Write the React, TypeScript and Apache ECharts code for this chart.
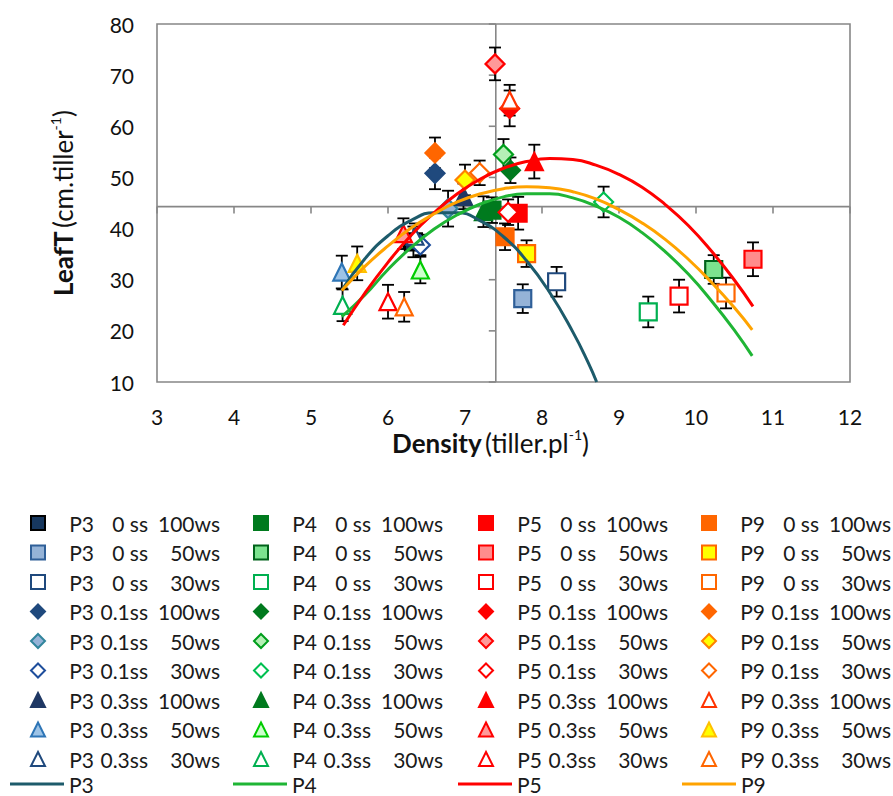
import React, { useEffect, useRef } from "react";
import * as echarts from "echarts";

// ---------- categories ----------
const POPULATIONS = ["P3", "P4", "P5", "P9"];
const SALT = ["0 ss", "0.1ss", "0.3ss"];
const WATER = ["100ws", "50ws", "30ws"];

// ---------- axes ----------
const X_TICKS = [3, 4, 5, 6, 7, 8, 9, 10, 11, 12];
const Y_TICKS = [10, 20, 30, 40, 50, 60, 70, 80];
const AXIS_CROSS_X = 7.4;
const AXIS_CROSS_Y = 44.3;

// ---------- points (order: 0ss 100/50/30ws, 0.1ss 100/50/30ws, 0.3ss 100/50/30ws) ----------
const P3_DENSITY = [6.33, 7.75, 8.19, 6.61, 6.78, 6.42, 6.98, 5.4, 6.35];
const P3_LEAFT = [37.4, 26.3, 29.6, 50.8, 43.9, 36.8, 46.3, 31.5, 38.5];
const P3_ERR = [3.0, 2.8, 2.9, 3.1, 3.5, 2.0, 2.5, 3.2, 2.5];

const P4_DENSITY = [7.35, 10.23, 9.38, 7.59, 7.5, 8.8, 7.24, 6.42, 5.41];
const P4_LEAFT = [43.6, 32.0, 23.7, 51.4, 54.5, 45.2, 43.3, 31.9, 25.0];
const P4_ERR = [2.5, 2.8, 3.0, 2.5, 3.0, 3.0, 3.0, 2.6, 3.1];

const P5_DENSITY = [7.69, 10.74, 9.78, 7.58, 7.39, 7.56, 7.9, 6.2, 6.0];
const P5_LEAFT = [43.0, 34.0, 26.8, 63.5, 72.2, 43.2, 53.1, 39.0, 25.7];
const P5_ERR = [3.2, 3.3, 3.2, 3.5, 3.2, 2.5, 3.3, 3.0, 3.3];

const P9_DENSITY = [7.52, 7.8, 10.39, 6.61, 7.0, 7.19, 7.58, 5.6, 6.21];
const P9_LEAFT = [38.4, 35.1, 27.4, 54.8, 49.5, 50.9, 65.1, 33.2, 24.7];
const P9_ERR = [2.6, 2.6, 3.0, 3.0, 3.0, 2.4, 3.0, 3.3, 2.9];

// ---------- trend curves ----------
const P3_CURVE_X = [5.4, 5.7, 6.0, 6.3, 6.6, 6.9, 7.2, 7.5, 7.8, 8.1, 8.4, 8.6, 8.71];
const P3_CURVE_Y = [28.0, 34.1, 38.6, 41.6, 43.1, 43.1, 41.5, 38.4, 33.7, 27.5, 19.8, 13.8, 10.0];

const P4_CURVE_X = [5.4, 5.7, 6.0, 6.3, 6.6, 6.9, 7.2, 7.5, 7.8, 8.1, 8.4, 8.7, 9.0, 9.3, 9.6, 9.9, 10.2, 10.5, 10.73];
const P4_CURVE_Y = [22.8, 27.0, 32.0, 36.3, 39.9, 42.7, 44.8, 46.2, 46.8, 46.8, 46.0, 44.4, 42.2, 39.2, 35.5, 31.1, 25.9, 20.1, 15.1];

const P5_CURVE_X = [5.42, 5.7, 6.0, 6.3, 6.6, 6.9, 7.2, 7.5, 7.8, 8.1, 8.4, 8.7, 9.0, 9.3, 9.6, 9.9, 10.2, 10.5, 10.74];
const P5_CURVE_Y = [21.1, 27.4, 33.4, 38.7, 43.1, 46.8, 49.7, 51.8, 53.1, 53.7, 53.5, 52.4, 50.6, 48.1, 44.7, 40.6, 35.6, 29.9, 24.8];

const P9_CURVE_X = [5.4, 5.7, 6.0, 6.3, 6.6, 6.9, 7.2, 7.5, 7.8, 8.1, 8.4, 8.7, 9.0, 9.3, 9.6, 9.9, 10.2, 10.5, 10.73];
const P9_CURVE_Y = [27.9, 32.6, 36.6, 40.1, 42.9, 45.2, 46.8, 47.8, 48.2, 48.0, 47.2, 45.8, 43.7, 41.1, 37.9, 34.0, 29.5, 24.5, 20.2];

const POINTS = [
  { density: P3_DENSITY, leafT: P3_LEAFT, err: P3_ERR },
  { density: P4_DENSITY, leafT: P4_LEAFT, err: P4_ERR },
  { density: P5_DENSITY, leafT: P5_LEAFT, err: P5_ERR },
  { density: P9_DENSITY, leafT: P9_LEAFT, err: P9_ERR },
];
const CURVES = [
  { x: P3_CURVE_X, y: P3_CURVE_Y },
  { x: P4_CURVE_X, y: P4_CURVE_Y },
  { x: P5_CURVE_X, y: P5_CURVE_Y },
  { x: P9_CURVE_X, y: P9_CURVE_Y },
];

// ---------- styles ----------
const SHAPES = ["rect", "diamond", "triangle"];
const CURVE_COLORS = ["#1d5b6b", "#1fb535", "#ff0000", "#ffa300"];
// [fill, border] per population, order as above
const MARKER_STYLES = [
  [
    ["#17375e", "#000000"], ["#95b3d7", "#2f5f98"], ["#ffffff", "#1f497d"],
    ["#1f497d", "#1f497d"], ["#95b3d7", "#31859c"], ["#ffffff", "#1f4e9c"],
    ["#1f3864", "#1f3864"], ["#9dc3e6", "#2e75b6"], ["#ffffff", "#1f497d"],
  ],
  [
    ["#007a1e", "#007a1e"], ["#7ce38f", "#00621a"], ["#ffffff", "#00b050"],
    ["#007a1e", "#007a1e"], ["#b6f0b6", "#009e1c"], ["#ffffff", "#00c050"],
    ["#007a1e", "#007a1e"], ["#ccffcc", "#00cc00"], ["#ffffff", "#00b050"],
  ],
  [
    ["#ff0000", "#ff0000"], ["#ff8c8c", "#ff0000"], ["#ffffff", "#ff0000"],
    ["#ff0000", "#ff0000"], ["#ff9999", "#ff0000"], ["#ffffff", "#ff0000"],
    ["#ff0000", "#ff0000"], ["#ff9999", "#ff0000"], ["#ffffff", "#ff0000"],
  ],
  [
    ["#ff6600", "#ff6600"], ["#ffff00", "#ff6600"], ["#ffffff", "#ff6600"],
    ["#ff6600", "#ff6600"], ["#ffff00", "#ff8000"], ["#ffffff", "#ff6600"],
    ["#ffffff", "#ff3300"], ["#ffff00", "#ffc000"], ["#ffffff", "#ff6600"],
  ],
];

const FONT = "Lato";
const TEXT_COLOR = "#1a1a1a";
const LEGEND_MARKER_LEFT = [30, 253, 478, 701];
const LEGEND_LINE_LEFT = [10, 233, 458, 682];

function buildOption() {
  const series: any[] = [];
  const legends: any[] = [];
  const errData: number[][] = [];

  POPULATIONS.forEach((pop, pi) => {
    const names: string[] = [];
    SALT.forEach((ss, si) => {
      WATER.forEach((ws, wi) => {
        const k = si * 3 + wi;
        const name = `${pop} ${ss} ${ws}`;
        names.push(name);
        const [fill, border] = MARKER_STYLES[pi][k];
        const x = POINTS[pi].density[k];
        const y = POINTS[pi].leafT[k];
        const e = POINTS[pi].err[k];
        errData.push([x, y - e, y + e]);
        series.push({
          type: "scatter",
          name,
          data: [[x, y]],
          symbol: SHAPES[si],
          symbolSize: si === 1 ? 19 : 17,
          itemStyle: { color: fill, borderColor: border, borderWidth: 2.2, opacity: 1 },
          z: 3,
          silent: true,
        });
      });
    });
    series.push({
      type: "line",
      name: pop,
      data: CURVES[pi].x.map((cx, i) => [cx, CURVES[pi].y[i]]),
      smooth: true,
      symbol: "none",
      showSymbol: false,
      lineStyle: { color: CURVE_COLORS[pi], width: 3 },
      itemStyle: { color: CURVE_COLORS[pi] },
      z: 4,
      silent: true,
    });
    const rt = { fontFamily: FONT, fontSize: 21, lineHeight: 22, color: TEXT_COLOR };
    legends.push({
      orient: "vertical",
      left: LEGEND_MARKER_LEFT[pi],
      top: 512,
      padding: 0,
      itemGap: 7.5,
      itemWidth: 14,
      itemHeight: 14,
      selectedMode: false,
      data: names,
      formatter: (n: string) => {
        const m = n.match(/^(\S+) (.+) (\S+)$/);
        if (!m) return n;
        return `{p|${m[1]}}{s|${m[2]}}{w|${m[3]}}`;
      },
      textStyle: {
        ...rt,
        rich: {
          p: { ...rt, width: 44, align: "right" },
          s: { ...rt, width: 54, align: "right" },
          w: { ...rt, width: 72, align: "right" },
        },
      },
    });
    legends.push({
      orient: "horizontal",
      left: LEGEND_LINE_LEFT[pi],
      top: 773,
      padding: 0,
      icon: "rect",
      itemWidth: 54,
      itemHeight: 3,
      selectedMode: false,
      data: [pop],
      textStyle: { ...rt },
    });
  });

  series.push({
    type: "custom",
    name: "errorbars",
    data: errData,
    encode: { x: 0, y: [1, 2] },
    z: 2,
    silent: true,
    renderItem: (params: any, api: any) => {
      const x = api.value(0);
      const lo = api.coord([x, api.value(1)]);
      const hi = api.coord([x, api.value(2)]);
      const cap = 6;
      const style = { stroke: "#000000", lineWidth: 1.8 };
      return {
        type: "group",
        children: [
          { type: "line", shape: { x1: hi[0], y1: hi[1], x2: lo[0], y2: lo[1] }, style },
          { type: "line", shape: { x1: hi[0] - cap, y1: hi[1], x2: hi[0] + cap, y2: hi[1] }, style },
          { type: "line", shape: { x1: lo[0] - cap, y1: lo[1], x2: lo[0] + cap, y2: lo[1] }, style },
        ],
      };
    },
  });

  series.push({
    type: "custom",
    name: "crossaxes",
    data: [[AXIS_CROSS_X, AXIS_CROSS_Y]],
    encode: { x: 0, y: 1 },
    z: 1,
    silent: true,
    renderItem: (params: any, api: any) => {
      const cx = api.value(0);
      const cy = api.value(1);
      const xMin = X_TICKS[0];
      const xMax = X_TICKS[X_TICKS.length - 1];
      const yMin = Y_TICKS[0];
      const yMax = Y_TICKS[Y_TICKS.length - 1];
      const style = { stroke: "#878787", lineWidth: 1.6 };
      const a = api.coord([xMin, cy]);
      const b = api.coord([xMax, cy]);
      const c = api.coord([cx, yMin]);
      const d = api.coord([cx, yMax]);
      const children: any[] = [
        { type: "line", shape: { x1: a[0], y1: a[1], x2: b[0], y2: b[1] }, style },
        { type: "line", shape: { x1: c[0], y1: c[1], x2: d[0], y2: d[1] }, style },
      ];
      X_TICKS.forEach((t) => {
        const p = api.coord([t, cy]);
        children.push({ type: "line", shape: { x1: p[0], y1: p[1], x2: p[0], y2: p[1] + 7 }, style });
      });
      Y_TICKS.forEach((t) => {
        const p = api.coord([cx, t]);
        children.push({ type: "line", shape: { x1: p[0] - 7, y1: p[1], x2: p[0], y2: p[1] }, style });
      });
      return { type: "group", children };
    },
  });

  const nameRich = {
    b: { fontFamily: FONT, fontWeight: "bold", fontSize: 26, lineHeight: 30, color: "#111" },
    n: { fontFamily: FONT, fontSize: 26, lineHeight: 30, color: "#111" },
    s: { fontFamily: FONT, fontSize: 14, lineHeight: 16, verticalAlign: "top", color: "#111" },
  };

  return {
    animation: false,
    backgroundColor: "#ffffff",
    grid: {
      left: 157,
      right: 43,
      top: 24,
      bottom: 414,
      show: true,
      borderColor: "#878787",
      borderWidth: 1.6,
      backgroundColor: "transparent",
    },
    legend: legends,
    xAxis: {
      type: "value",
      min: X_TICKS[0],
      max: X_TICKS[X_TICKS.length - 1],
      interval: 1,
      axisLine: { show: false },
      axisTick: { show: false },
      splitLine: { show: false },
      axisLabel: { fontFamily: FONT, fontSize: 21, color: "#111", margin: 24 },
      name: "{b|Density} {n|(tiller.pl}{s|-1}{n|)}",
      nameLocation: "middle",
      nameGap: 36,
      nameTextStyle: { rich: nameRich, padding: [0, 26, 0, 0] },
    },
    yAxis: {
      type: "value",
      min: Y_TICKS[0],
      max: Y_TICKS[Y_TICKS.length - 1],
      interval: 10,
      axisLine: { show: false },
      axisTick: { show: false },
      splitLine: { show: false },
      axisLabel: { fontFamily: FONT, fontSize: 21, color: "#111", margin: 23 },
      name: "{b|LeafT} {n|(cm.tiller}{s|-1}{n|)}",
      nameLocation: "middle",
      nameRotate: 90,
      nameGap: 79,
      nameTextStyle: { rich: nameRich },
    },
    series,
  };
}

export default function App() {
  const ref = useRef<HTMLDivElement>(null);
  useEffect(() => {
    document.body.style.margin = "0";
    if (!ref.current) return;
    const chart = echarts.init(ref.current, undefined, { renderer: "svg" });
    chart.setOption(buildOption() as any);
    return () => chart.dispose();
  }, []);
  return <div ref={ref} style={{ width: 893, height: 796 }} />;
}
